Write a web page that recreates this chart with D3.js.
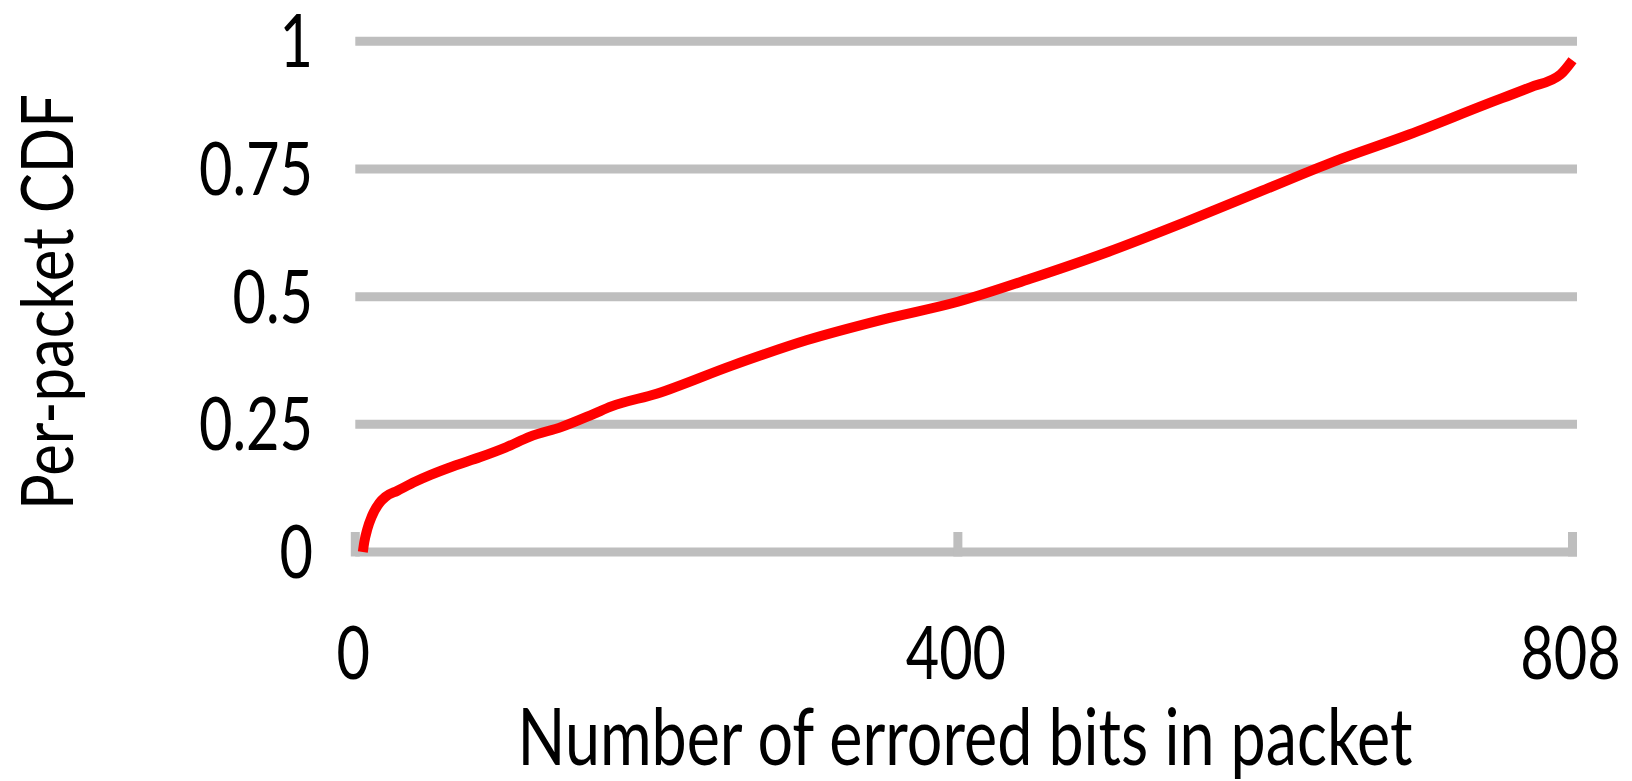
<!DOCTYPE html>
<html>

<head>
  <title>Per-packet CDF</title>
  <script src="https://cdn.jsdelivr.net/npm/d3@7"></script>
  <style>
    body {
      margin: 0;
      background: #fff;
    }

    text {
      font-family: Lato, "Open Sans", sans-serif;
      fill: #000;
    }

    .grid line {
      stroke: #bebebe;
      stroke-width: 9px;
    }

    .cdf {
      fill: none;
      stroke: #ff0000;
      stroke-width: 10px;
      stroke-linejoin: round;
    }
  </style>
</head>

<body>
  <svg id="chart" width="1632" height="781"></svg>

  <script type="text/javascript">
    // values
    var bits = [5, 6, 8, 11, 16, 20, 28, 40, 50, 65, 83, 100, 116, 137, 158, 170, 200, 250, 300, 350, 400,
      450, 500, 550, 600, 650, 700, 750, 780, 800, 808];
    var cdf = [0, 0.02, 0.045, 0.07, 0.096, 0.108, 0.12, 0.138, 0.151, 0.168, 0.186, 0.205, 0.226, 0.245, 0.27,
      0.285, 0.31, 0.365, 0.415, 0.455, 0.49, 0.537, 0.588, 0.645, 0.705, 0.765, 0.818, 0.876, 0.91, 0.935, 0.963];
    var xTicks = [0, 400, 808];
    var yTicks = [0, 0.25, 0.5, 0.75, 1];
    var yTickLabels = ['0', '0.25', '0.5', '0.75', '1'];

    var svg = d3.select('#chart');

    var x = d3.scaleLinear().domain([0, 808]).range([355.3, 1572.5]);
    var y = d3.scaleLinear().domain([0, 1]).range([552, 41.3]);

    var tickSize = 74;
    var squeeze = 0.78; // the original text is narrow

    // horizontal gridlines
    svg.append('g')
      .attr('class', 'grid')
      .selectAll('line')
      .data(yTicks)
      .enter()
      .append('line')
      .attr('x1', x(0))
      .attr('x2', x(808) + 4.5)
      .attr('y1', d => y(d))
      .attr('y2', d => y(d));

    // tick marks pointing up from the x axis
    svg.append('g')
      .attr('class', 'grid')
      .selectAll('line')
      .data(xTicks)
      .enter()
      .append('line')
      .attr('x1', d => x(d))
      .attr('x2', d => x(d))
      .attr('y1', y(0) - 20)
      .attr('y2', y(0) + 4.5);

    var line = d3.line()
      .x((d, i) => x(bits[i]))
      .y(d => y(d))
      .curve(d3.curveMonotoneX);

    svg.append('path')
      .datum(cdf)
      .attr('class', 'cdf')
      .attr('d', line);

    // sx: horizontal squeeze, or null to fit the text to width w
    function label(tx, ty, anchor, str, size, sx, rot, w) {
      var g = svg.append('g');
      var t = g.append('text')
        .attr('text-anchor', anchor)
        .style('font-size', size + 'px')
        .text(str);
      if (sx == null) sx = w / t.node().getComputedTextLength();
      g.attr('transform', 'translate(' + tx + ',' + ty + ')' + (rot ? ' rotate(' + rot + ')' : '') + ' scale(' + sx + ',1)');
      return t;
    }

    // y tick labels
    yTicks.forEach((v, i) => {
      label(313, y(v) + 26, 'end', yTickLabels[i], tickSize, squeeze);
    });

    // x tick labels
    xTicks.forEach(v => {
      label(x(v) - 2, 679, 'middle', String(v), tickSize, squeeze);
    });

    label(965, 765, 'middle', 'Number of errored bits in packet', 80, null, 0, 895);
    label(73, 302, 'middle', 'Per-packet CDF', 72, null, -90, 416);
  </script>
</body>

</html>
